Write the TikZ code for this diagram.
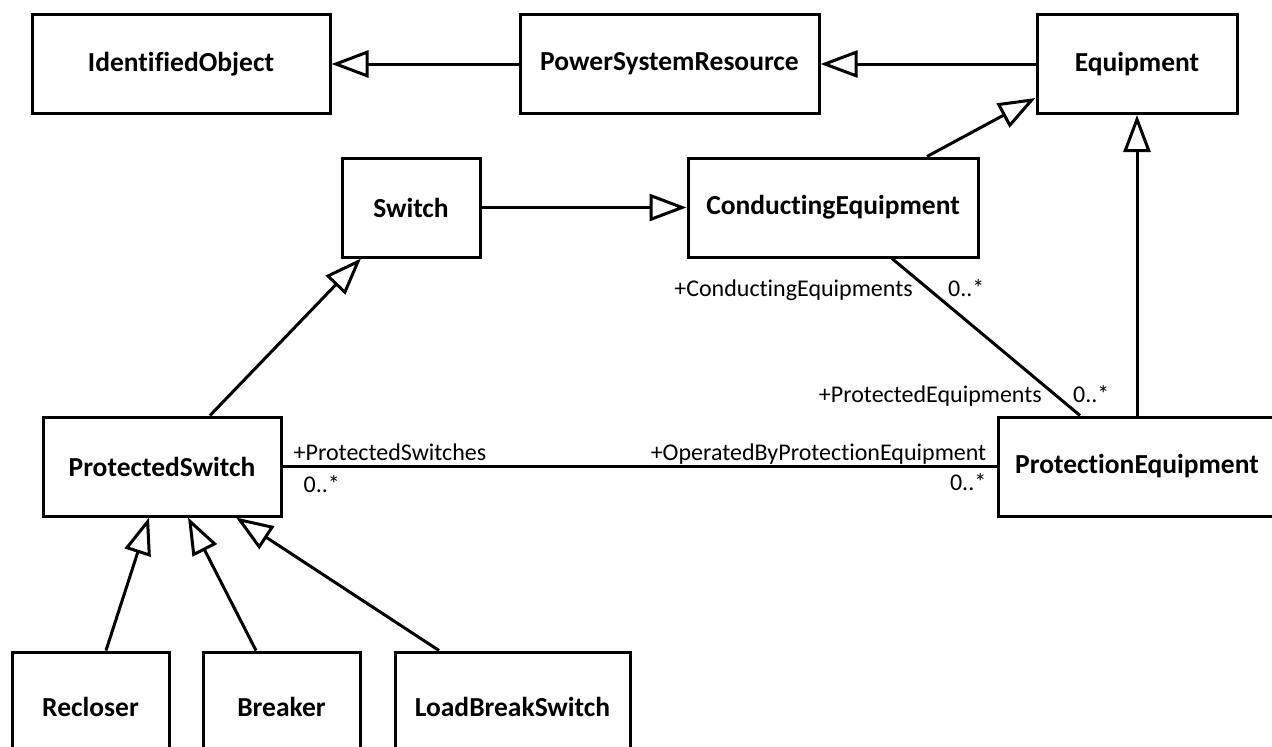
\documentclass[tikz,border=0pt]{standalone}
\usepackage{fontspec}
\setmainfont{Carlito}[Ligatures=NoCommon]
\usetikzlibrary{arrows.meta}
\usetikzlibrary{positioning}

\begin{document}
\begin{tikzpicture}[x=1pt,y=-1pt,
  cls/.style={draw,line width=3pt,font=\fontsize{27.5}{30}\selectfont\bfseries,minimum height=99pt,inner sep=0pt},
  inherit/.style={line width=3pt,-{Triangle[open,length=37pt,width=27pt]}},
  assoc/.style={line width=3pt},
  role/.style={font=\fontsize{24}{26}\selectfont,inner sep=0pt}]
 \clip (0,0) rectangle (1272,747);
 % classes
 \node[cls,minimum width=298pt] (io) at (181,64) {IdentifiedObject};
 \node[cls,minimum width=299pt] (psr) at (669.5,64) {PowerSystemResource};
 \node[cls,minimum width=200pt] (equip) at (1137,64) {Equipment};
 \node[cls,minimum width=138pt] (sw) at (411,207.5) {Switch};
 \node[cls,minimum width=290pt] (ce) at (833,207.5) {ConductingEquipment};
 \node[cls,minimum width=238pt] (ps) at (162,466.5) {ProtectedSwitch};
 \node[cls,minimum width=278pt] (pe) at (1137,466.5) {ProtectionEquipment};
 \node[cls,minimum width=157pt,minimum height=110pt] (rec) at (90.5,707) {Recloser};
 \node[cls,minimum width=157pt,minimum height=110pt] (brk) at (281.5,707) {Breaker};
 \node[cls,minimum width=235pt,minimum height=110pt] (lbs) at (512.5,707) {LoadBreakSwitch};
 % generalisations
 \draw[inherit] (psr.west) -- (io.east);
 \draw[inherit] (equip.west) -- (psr.east);
 \draw[inherit] ([xshift=94pt]ce.north) -- ([yshift=-34pt]equip.west);
 \draw[inherit] (pe.north) -- (equip.south);
 \draw[inherit] (sw.east) -- (ce.west);
 \draw[inherit] ([xshift=48pt]ps.north) -- ([xshift=-50pt]sw.south);
 \draw[inherit] ([xshift=15.5pt]rec.north) -- ([xshift=-13pt]ps.south);
 \draw[inherit] ([xshift=-25.5pt]brk.north) -- ([xshift=26pt]ps.south);
 \draw[inherit] ([xshift=-73.5pt]lbs.north) -- ([xshift=74pt]ps.south);
 % associations
 \draw[assoc] ([xshift=59pt]ce.south) -- ([xshift=-57pt]pe.north);
 \draw[assoc] (ps.east) -- (pe.west);
 \node[role,anchor=base east] (ceRole) at ([xshift=80pt,yshift=-37.5pt]ce.south) {+ConductingEquipments};
 \node[role,anchor=base west] (ceMult) at ([xshift=115pt,yshift=-37.5pt]ce.south) {0..*};
 \node[role,anchor=base east] (peRole) at ([xshift=-95pt,yshift=13.5pt]pe.north) {+ProtectedEquipments};
 \node[role,anchor=base west] (peMult) at ([xshift=-64pt,yshift=13.5pt]pe.north) {0..*};
 \node[role,anchor=base west] (psRole) at ([xshift=11pt,yshift=6pt]ps.east) {+ProtectedSwitches};
 \node[role,anchor=base west] (psMult) at ([xshift=21pt,yshift=-26pt]ps.east) {0..*};
 \node[role,anchor=base east] (opRole) at ([xshift=-10pt,yshift=6pt]pe.west) {+OperatedByProtectionEquipment};
 \node[role,anchor=base east] (opMult) at ([xshift=-10pt,yshift=-24pt]pe.west) {0..*};
\end{tikzpicture}
\end{document}
